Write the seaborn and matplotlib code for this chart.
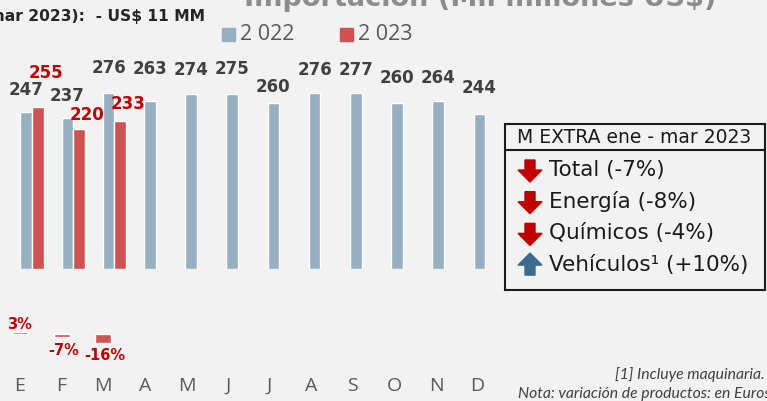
import numpy as np
import pandas as pd
import matplotlib
matplotlib.use("Agg")
import matplotlib.pyplot as plt
import seaborn as sns
from matplotlib.patches import Rectangle, Polygon

# ---- data ----
months = ["E", "F", "M", "A", "M", "J", "J", "A", "S", "O", "N", "D"]
imp_2022 = [247, 237, 276, 263, 274, 275, 260, 276, 277, 260, 264, 244]
imp_2023 = [255, 220, 233]
var_pct = [3, -7, -16]
var_labels = ["3%", "-7%", "-16%"]
years = ["2 022", "2 023"]
box_title = "M EXTRA ene - mar 2023"
box_items = ["Total (-7%)", "Energía (-8%)", "Químicos (-4%)", "Vehículos¹ (+10%)"]
box_up = [False, False, False, True]

# label nudges (data units above the bar top)
dy_22 = [36, 36, 41, 52, 40, 40, 27, 38, 37, 41, 37, 42]
dy_23 = [54, 24, 28]

BG = "#f2f2f2"
C22 = "#97afc2"
C23 = "#d05353"
RED = "#c00000"
DARK = "#404040"
GRAY = "#595959"

sns.set_theme(style="white")
plt.rcParams["font.family"] = ["DejaVu Sans"]

fig = plt.figure(figsize=(7.67, 4.02), dpi=100, facecolor=BG)

# long table for the monthly bars
pos = list(range(len(months)))
rows = [(p, years[0], v) for p, v in zip(pos, imp_2022)]
rows += [(p, years[1], v) for p, v in zip(pos, imp_2023)]
df = pd.DataFrame(rows, columns=["pos", "year", "value"])

# --- top chart: monthly imports ---
ax1 = fig.add_axes([0, (402 - 270) / 402, 1, 270 / 402])
ax1.set_facecolor("none")
sns.barplot(data=df, x="pos", y="value", hue="year", hue_order=years,
            order=pos, palette=[C22, C23], width=0.56, saturation=1,
            legend=False, ax=ax1)
ax1.set_xlim(-32 / 41.2, (767 - 32) / 41.2)
ax1.set_ylim(0, 270 / 0.637)
ax1.axis("off")

for i, v in enumerate(imp_2022):
    ax1.text(i - 0.14, v + dy_22[i], str(v), ha="center", va="center",
             fontsize=12, fontweight="bold", color=DARK)
for i, v in enumerate(imp_2023):
    ax1.text(i + 0.14 + 0.2, v + dy_23[i], str(v), ha="center", va="center",
             fontsize=12, fontweight="bold", color=RED)

# --- bottom chart: year-on-year change ---
ax2 = fig.add_axes([0, 42 / 402, 1, 60 / 402])
ax2.set_facecolor("none")
sns.barplot(x=pos[:len(var_pct)], y=var_pct, order=pos, color=C23,
            width=0.38, saturation=1, ax=ax2)
ax2.set_xlim(-20 / 41.6, (767 - 20) / 41.6)
ax2.set_ylim(-25.5 / 0.57, 34.5 / 0.57)
for s in ax2.spines.values():
    s.set_visible(False)
ax2.set_yticks([])
ax2.set_ylabel("")
ax2.set_xticks(pos)
ax2.set_xticklabels(months, fontsize=14, color=GRAY, family="Open Sans")
ax2.tick_params(axis="x", length=0, pad=12)
for i, (v, t) in enumerate(zip(var_pct, var_labels)):
    if v >= 0:
        ax2.text(i, v + 2, t, ha="center", va="bottom", fontsize=10.5,
                 fontweight="bold", color=RED)
    else:
        ax2.text(i + 0.05, v - 8, t, ha="center", va="top", fontsize=10.5,
                 fontweight="bold", color=RED)

# --- overlay in pixel coordinates for titles, legend and box ---
ov = fig.add_axes([0, 0, 1, 1])
ov.set_xlim(0, 767)
ov.set_ylim(402, 0)
ov.axis("off")
ov.set_facecolor("none")

ov.text(480, 6, "Importación (Mil millones US$)", ha="center", va="baseline",
        fontsize=19.5, fontweight="bold", color="#8c8c8c")
ov.text(205, 16, "Saldo (ene - mar 2023):  - US$ 11 MM", ha="right",
        va="center", fontsize=11.2, fontweight="bold", color="#262626")

# legend
for x0, col, lab in [(222, C22, years[0]), (340, C23, years[1])]:
    ov.add_patch(Rectangle((x0, 29), 13, 13, color=col))
    ov.text(x0 + 18, 35, lab, ha="left", va="center", fontsize=15.5,
            color=GRAY, family="Open Sans")

# summary box
ov.add_patch(Rectangle((505, 125), 260, 166, fill=False, lw=1.5,
                       ec="#1a1a1a"))
ov.plot([505, 765], [151, 151], color="#1a1a1a", lw=1.5)
ov.text(517, 138, box_title, ha="left", va="center", fontsize=13.5,
        color="#1a1a1a")
for k, (txt, up) in enumerate(zip(box_items, box_up)):
    yc = 170 + k * 31.7
    ov.text(549, yc, txt, ha="left", va="center", fontsize=15.5,
            color="#1a1a1a")
    cx = 530
    if up:
        pts = [(cx - 5, yc + 11), (cx + 5, yc + 11), (cx + 5, yc + 1),
               (cx + 12, yc + 1), (cx, yc - 11), (cx - 12, yc + 1),
               (cx - 5, yc + 1)]
        col = "#3b6c8e"
    else:
        pts = [(cx - 5, yc - 9), (cx + 5, yc - 9), (cx + 5, yc + 1),
               (cx + 12, yc + 1), (cx, yc + 13), (cx - 12, yc + 1),
               (cx - 5, yc + 1)]
        col = RED
    ov.add_patch(Polygon(pts, closed=True, color=col))

# footnotes
ov.text(765, 375, "[1] Incluye maquinaria.", ha="right", va="center",
        fontsize=11.3, style="italic", color=DARK, family="Lato")
ov.text(518, 394, "Nota: variación de productos: en Euros", ha="left",
        va="center", fontsize=11.3, style="italic", color=DARK, family="Lato")

fig.savefig("out.png", dpi=100, facecolor=BG)
